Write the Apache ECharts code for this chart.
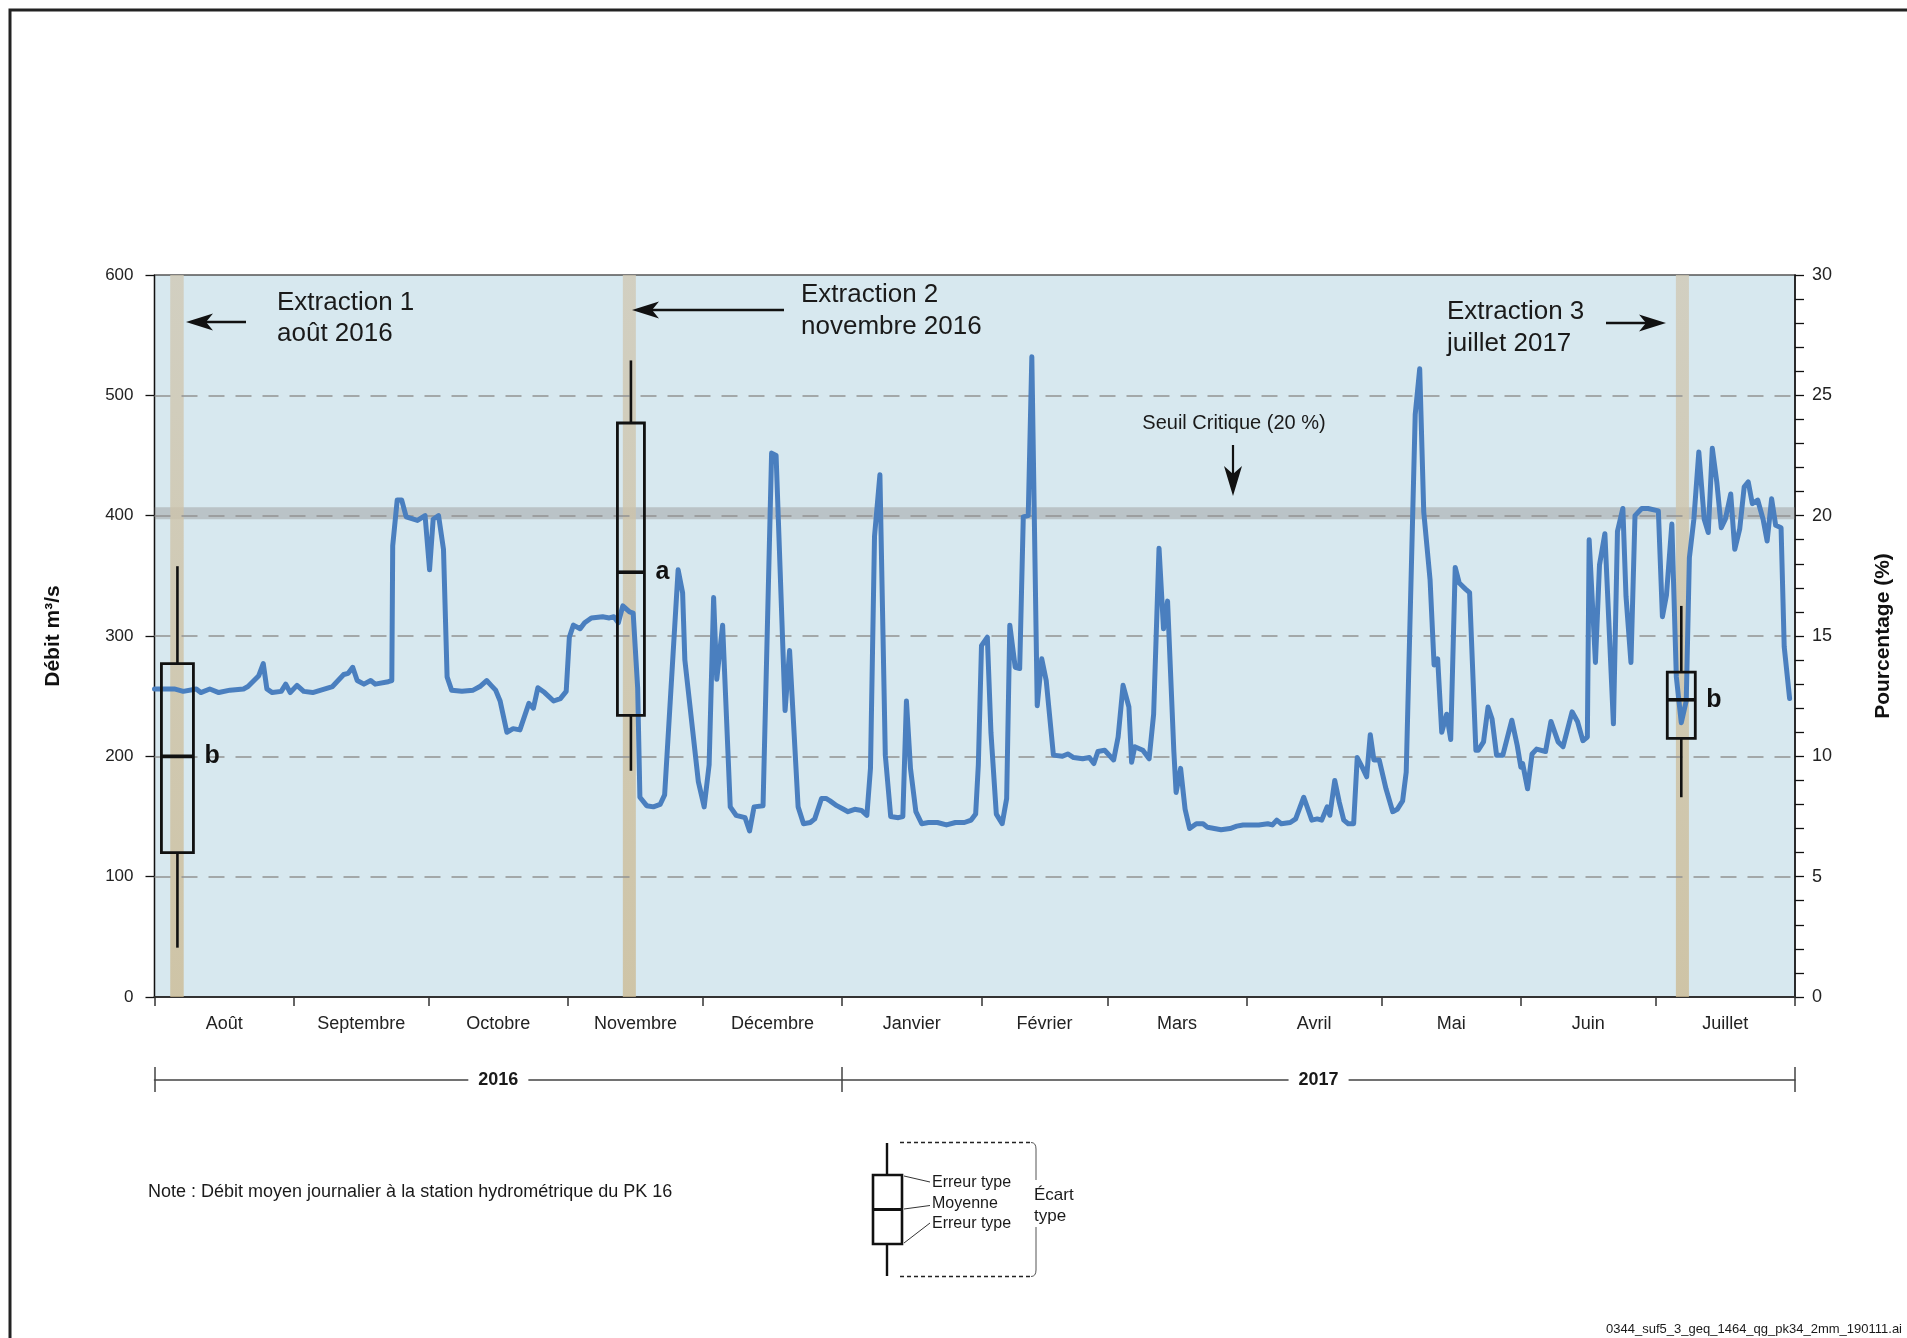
<!DOCTYPE html>
<html><head><meta charset="utf-8">
<script src="https://cdn.jsdelivr.net/npm/echarts@6/dist/echarts.min.js"></script>
<style>html,body{margin:0;padding:0;background:#fff}#chart{width:1907px;height:1338px}</style>
</head><body><div id="chart"></div>
<script>
// ---------- DATA ----------
const monthNames = ['Août','Septembre','Octobre','Novembre','Décembre','Janvier','Février','Mars','Avril','Mai','Juin','Juillet'];
const monthStarts = [0,31,61,92,122,153,184,212,243,273,304,334,365]; // day index from 1 Aug 2016
const yearNames = ['2016','2017'];
const yearBounds = [0,153,365];
const gridValues = [100,200,300,400,500];
const criticalBand = [397,407];      // seuil critique 20 %
const extractionBands = [[3.5,6.5],[104.2,107.1],[338.5,341.4]];

// daily mean flow (m3/s), day index vs value
const flowDay = [0,4.4,6.4,9.3,10.3,12.3,14.3,16.8,19.8,20.8,23.2,24.2,25,26.2,28.2,29.2,30.2,31.7,33.2,35.2,39.6,42.1,43.1,44.1,45.1,46.6,48.1,49.1,52,52.8,53,54,55,56,58.5,60.2,61.2,62,63.2,64.3,65.1,66.1,68.4,70.9,72.4,73.9,74.9,75.9,76.9,78.4,79.8,81.3,83.3,84.3,85.3,86.8,88.8,90.3,91.6,92.3,93.2,94.7,95.7,97.2,99.7,101.2,102.2,103.2,104.2,105.7,106.5,
107.5,108,109.5,111,112.5,113.5,116.5,117.5,118,121,122.3,123.4,124.4,125.1,126.4,128.1,129.4,131.4,132.4,133.4,135.4,137.3,138.3,140.3,141.3,143.2,144.4,145.9,146.9,148.4,149.4,150.3,151.8,153.3,154.3,155.8,157.3,158.5,159.3,160.2,161.4,162.6,163.8,165.5,166.5,167.3,168.2,169.4,170.7,172.2,174.2,176.2,178.2,180.2,181.7,182.7,183.3,184,185.3,186.1,187.3,188.6,189.6,190.3,191.5,192.5,193.3,194.4,195.2,196.4,197.4,198.4,200,202,203.2,204.5,206.5,208,209,209.9,211.4,213.4,214.4,215.5,216.8,217.4,218.1,219.9,221.3,222.3,223.5,224.5,225.4,226.8,227.3,228.3,229.3,230.3,231.8,233.3,234.3,235.8,237.3,239.3,240.8,242.2,243.7,245.7,247.7,248.7,249.7,250.7,252.7,253.9,255.7,257.5,258.7,259.7,260.9,261.5,262.6,263.6,264.6,265.6,266.8,267.6,268.7,269.7,270.5,271.3,272.5,274,275.5,276.5,277.7,278.5,
280.5,281.5,282.4,283.8,284.7,285.5,286.4,287.5,288.4,289.4,290.3,291.7,292.6,294,294.5,295.7,296.7,297.6,298.6,300,302,303.2,304,304.4,305.5,306.5,307.5,309.5,310.7,312.3,313.4,315.4,316.6,317.8,318.8,319.2,320.6,321.5,322.7,324.6,325.5,326.7,327.4,328.5,329.4,330.9,332.3,334.6,335.5,336.4,337.6,338.6,339.7,340.8,341.5,342.5,343.6,344.8,345.7,346.6,347.6,348.6,349.5,350.7,351.6,352.7,353.7,354.6,355.5,356.7,357.9,358.8,359.8,360.7,361.9,362.6,363.8];
const flowVal = [256,256,254,256,253,256,253,255,256,258,267,277,256,253,254,260,253,259,254,253,258,268,269,274,263,260,263,260,262,263,375,413,413,399,396,400,355,397,400,372,266,255,254,255,258,263,259,255,246,220,223,222,244,240,257,253,246,248,254,299,309,306,311,315,316,315,316,311,325,320,319,
257,166,159,158,160,168,355,336,280,179,158,193,332,264,309,158,151,149,138,158,159,452,450,238,288,158,144,145,148,165,165,163,159,156,154,156,155,151,190,383,434,201,150,149,150,246,190,154,144,145,145,143,145,145,147,152,193,292,299,220,152,144,165,309,274,273,399,400,532,242,281,263,201,200,202,199,198,199,194,204,205,197,216,259,241,195,208,205,198,235,373,306,329,204,170,190,156,140,144,144,141,140,139,140,142,143,143,143,144,143,147,144,145,148,166,147,148,147,158,151,180,162,147,144,144,199,191,183,218,197,197,173,154,156,163,187,
484,522,403,347,276,281,220,235,214,357,344,339,336,205,205,212,241,231,201,201,230,209,191,194,173,202,206,204,229,212,208,237,229,213,216,380,278,359,385,227,387,406,333,278,400,406,406,404,316,334,393,266,228,246,365,397,453,397,386,456,428,390,397,418,372,389,424,428,410,413,397,379,414,392,390,291,248];

// box summaries per extraction (m3/s)
const boxDays  = [5.1, 106.0, 339.7];
const boxLow   = [41, 188, 166];
const boxQ1    = [120, 234, 215];
const boxMean  = [200, 353, 247];
const boxQ3    = [277, 477, 270];
const boxHigh  = [358, 529, 325];
const boxGroups = ['b','a','b'];

// ---------- STYLE ----------
const FONT = '"Liberation Sans", Arial, Helvetica, sans-serif';
const boxWidthsPx = [32, 27, 28];
const GRID = {left:154.5, top:275, width:1640.5, height:722};

const monthMids = monthNames.map((n,i)=> (monthStarts[i]+monthStarts[i+1])/2);
const yearMids = yearNames.map((n,i)=> (yearBounds[i]+yearBounds[i+1])/2);
const flowData = flowDay.map((d,i)=>[d, flowVal[i]]);
const boxData = boxDays.map((d,i)=>[d, boxLow[i], boxQ1[i], boxMean[i], boxQ3[i], boxHigh[i]]);

const chart = echarts.init(document.getElementById('chart'), null, {renderer:'canvas'});

function renderBox(params, api){
  const i = params.dataIndex;
  const x = api.value(0);
  const pLow = api.coord([x, api.value(1)]);
  const pQ1 = api.coord([x, api.value(2)]);
  const pMean = api.coord([x, api.value(3)]);
  const pQ3 = api.coord([x, api.value(4)]);
  const pHigh = api.coord([x, api.value(5)]);
  const w = boxWidthsPx[i];
  const cx = pMean[0];
  const st = {stroke:'#111', lineWidth:2.6};
  return {type:'group', children:[
    {type:'line', shape:{x1:cx,y1:pLow[1],x2:cx,y2:pQ1[1]}, style:st},
    {type:'line', shape:{x1:cx,y1:pQ3[1],x2:cx,y2:pHigh[1]}, style:st},
    {type:'rect', shape:{x:cx-w/2,y:pQ3[1],width:w,height:pQ1[1]-pQ3[1]}, style:{fill:'none',stroke:'#111',lineWidth:2.8}},
    {type:'line', shape:{x1:cx-w/2,y1:pMean[1],x2:cx+w/2,y2:pMean[1]}, style:{stroke:'#111',lineWidth:3.6}},
    {type:'text', x:cx+w/2+11, y:pMean[1], style:{text:boxGroups[i], fill:'#111', font:'bold 25px '+FONT, verticalAlign:'middle', textVerticalAlign:'middle'}}
  ]};
}

function txt(text, x, y, size, opts){
  opts = opts || {};
  return {type:'text', style:{text:text, x:x, y:y, font:(opts.weight||'normal')+' '+size+'px '+FONT, fill:opts.fill||'#1a1a1a',
    textAlign:opts.align||'left', align:opts.align||'left', textVerticalAlign:'middle', verticalAlign:'middle'}, z:100};
}
function arrowH(tipX, tailX, y){
  const dir = tailX > tipX ? 1 : -1;
  const L = 27, h = 8.5, n = 7;
  return [
    {type:'line', shape:{x1:tipX+dir*(L-n), y1:y, x2:tailX, y2:y}, style:{stroke:'#111', lineWidth:2.6}, z:100},
    {type:'polygon', shape:{points:[[tipX,y],[tipX+dir*L,y-h],[tipX+dir*(L-n),y],[tipX+dir*L,y+h]]}, style:{fill:'#111'}, z:100}
  ];
}
function arrowV(x, tailY, tipY){
  const L = 30, h = 9, n = 8;
  return [
    {type:'line', shape:{x1:x, y1:tailY, x2:x, y2:tipY-(L-n)}, style:{stroke:'#111', lineWidth:2.2}, z:100},
    {type:'polygon', shape:{points:[[x,tipY],[x-h,tipY-L],[x,tipY-(L-n)],[x+h,tipY-L]]}, style:{fill:'#111'}, z:100}
  ];
}

const legendEls = [
  {type:'line', shape:{x1:887,y1:1143,x2:887,y2:1276}, style:{stroke:'#111',lineWidth:2.4}, z:100},
  {type:'rect', shape:{x:873,y:1175,width:29,height:69}, style:{fill:'#fff',stroke:'#111',lineWidth:2.6}, z:101},
  {type:'line', shape:{x1:873,y1:1209.5,x2:902,y2:1209.5}, style:{stroke:'#111',lineWidth:3}, z:102},
  {type:'line', shape:{x1:904,y1:1176,x2:930,y2:1182}, style:{stroke:'#333',lineWidth:1}, z:100},
  {type:'line', shape:{x1:904,y1:1209,x2:930,y2:1205.5}, style:{stroke:'#333',lineWidth:1}, z:100},
  {type:'line', shape:{x1:904,y1:1243,x2:930,y2:1223}, style:{stroke:'#333',lineWidth:1}, z:100},
  txt('Erreur type', 932, 1183, 16),
  txt('Moyenne', 932, 1204, 16),
  txt('Erreur type', 932, 1224, 16),
  {type:'line', shape:{x1:900,y1:1142.5,x2:1031,y2:1142.5}, style:{stroke:'#222',lineWidth:1.3,lineDash:[4,3]}, z:100},
  {type:'bezierCurve', shape:{x1:1031,y1:1142.5,cpx1:1036,cpy1:1142.5,x2:1036,y2:1149}, style:{stroke:'#555',lineWidth:1,fill:'none'}, z:100},
  {type:'line', shape:{x1:1036,y1:1149,x2:1036,y2:1180}, style:{stroke:'#555',lineWidth:1}, z:100},
  {type:'line', shape:{x1:1036,y1:1227,x2:1036,y2:1270}, style:{stroke:'#555',lineWidth:1}, z:100},
  {type:'bezierCurve', shape:{x1:1036,y1:1270,cpx1:1036,cpy1:1276.5,x2:1031,y2:1276.5}, style:{stroke:'#555',lineWidth:1,fill:'none'}, z:100},
  {type:'line', shape:{x1:900,y1:1276.5,x2:1031,y2:1276.5}, style:{stroke:'#222',lineWidth:1.3,lineDash:[4,3]}, z:100},
  txt('Écart', 1034, 1195, 17),
  txt('type', 1034, 1216, 17)
];

const graphicEls = [].concat(
  [{type:'polyline', shape:{points:[[10,1338],[10,10],[1907,10]]}, style:{stroke:'#222', lineWidth:3, fill:'none'}, z:100}],
  [txt('Extraction 1', 277, 303, 26), txt('août 2016', 277, 334, 26)],
  arrowH(186, 246, 322),
  [txt('Extraction 2', 801, 295, 26), txt('novembre 2016', 801, 327, 26)],
  arrowH(632, 784, 310),
  [txt('Extraction 3', 1447, 312, 26), txt('juillet 2017', 1447, 344, 26)],
  arrowH(1666, 1606, 323),
  [txt('Seuil Critique (20 %)', 1234, 423, 20, {align:'center'})],
  arrowV(1233, 445, 496),
  [txt('Note : Débit moyen journalier à la station hydrométrique du PK 16', 148, 1192, 18)],
  legendEls,
  [txt('0344_suf5_3_geq_1464_qg_pk34_2mm_190111.ai', 1902, 1329, 13, {align:'right'})]
);

const option = {
  animation:false,
  backgroundColor:'#ffffff',
  textStyle:{fontFamily:FONT},
  grid:{left:GRID.left, top:GRID.top, width:GRID.width, height:GRID.height, show:true, backgroundColor:'#d7e8ef', borderColor:'#555', borderWidth:1.5, containLabel:false, outerBoundsMode:'none'},
  xAxis:[
    {type:'value', min:0, max:365, position:'bottom',
      axisLine:{show:true, onZero:false, lineStyle:{color:'#333', width:2}},
      axisTick:{show:true, customValues:monthStarts, length:9, lineStyle:{color:'#333', width:1.5}},
      axisLabel:{show:true, customValues:monthMids, margin:18, fontSize:18, color:'#222', fontFamily:FONT,
        formatter:function(v){ const i = monthMids.indexOf(v); return i>=0 ? monthNames[i] : ''; }},
      splitLine:{show:false}},
    {type:'value', min:0, max:365, position:'bottom', offset:83,
      axisLine:{show:true, onZero:false, lineStyle:{color:'#444', width:1.5}},
      axisTick:{show:true, customValues:yearBounds, length:12, lineStyle:{color:'#444', width:1.5}},
      axisLabel:{show:true, customValues:yearMids, margin:0, fontSize:18, fontWeight:'bold', color:'#1a1a1a', fontFamily:FONT,
        verticalAlign:'middle', backgroundColor:'#ffffff', padding:[2,10,2,10],
        formatter:function(v){ const i = yearMids.indexOf(v); return i>=0 ? yearNames[i] : ''; }},
      splitLine:{show:false}},
    {type:'value', min:0, max:365, position:'bottom', offset:83,
      axisLine:{show:false, onZero:false},
      axisTick:{show:true, inside:true, customValues:yearBounds, length:13, lineStyle:{color:'#444', width:1.5}},
      axisLabel:{show:false}, splitLine:{show:false}}
  ],
  yAxis:[
    {type:'value', min:0, max:600, interval:100, position:'left',
      name:'Débit m³/s', nameLocation:'middle', nameGap:91, nameRotate:90,
      nameTextStyle:{fontSize:21, fontWeight:'bold', color:'#111', fontFamily:FONT},
      axisLine:{show:true, onZero:false, lineStyle:{color:'#111', width:1.2}},
      axisTick:{show:true, length:9, lineStyle:{color:'#111', width:1.3}},
      axisLabel:{margin:21, fontSize:17, color:'#222', fontFamily:FONT},
      splitLine:{show:false}},
    {type:'value', min:0, max:30, interval:5, position:'right',
      name:'Pourcentage (%)', nameLocation:'middle', nameGap:78, nameRotate:90,
      nameTextStyle:{fontSize:21, fontWeight:'bold', color:'#111', fontFamily:FONT},
      axisLine:{show:true, onZero:false, lineStyle:{color:'#111', width:1.5}},
      axisTick:{show:true, length:9, lineStyle:{color:'#111', width:1.3}},
      minorTick:{show:true, splitNumber:5, length:9, lineStyle:{color:'#111', width:1.3}},
      axisLabel:{margin:17, fontSize:18, color:'#222', fontFamily:FONT},
      splitLine:{show:false}, minorSplitLine:{show:false}}
  ],
  series:[
    {type:'line', name:'Débit', xAxisIndex:0, yAxisIndex:0, data:flowData, z:10,
      showSymbol:false, symbol:'none', smooth:false,
      lineStyle:{color:'#4a7fbf', width:5, join:'round', cap:'round'},
      markArea:{silent:true, z:1, label:{show:false},
        data:[
          [{yAxis:criticalBand[0], itemStyle:{color:'rgba(135,130,128,0.36)'}}, {yAxis:criticalBand[1]}]
        ].concat(extractionBands.map(b=>[
          {xAxis:b[0], itemStyle:{color:{type:'linear',x:0,y:0,x2:0,y2:1,colorStops:[{offset:0,color:'rgba(208,200,180,0.78)'},{offset:1,color:'rgba(204,186,146,0.78)'}]}}},
          {xAxis:b[1]}
        ]))
      },
      markLine:{silent:true, symbol:['none','none'], z:5, label:{show:false},
        lineStyle:{type:[16,11], color:'#939393', width:1.6},
        data:gridValues.map(v=>({yAxis:v}))
      }
    },
    {type:'custom', name:'Extractions', xAxisIndex:0, yAxisIndex:0, z:12, clip:false,
      renderItem:renderBox, encode:{x:0, y:[1,2,3,4,5]}, data:boxData}
  ],
  graphic:{elements:graphicEls}
};
chart.setOption(option);
</script></body></html>
